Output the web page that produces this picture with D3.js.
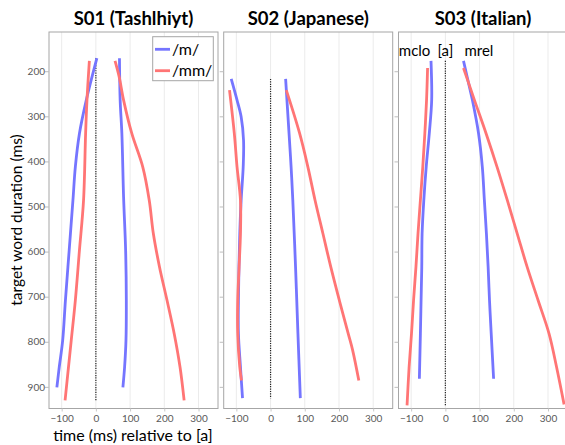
<!DOCTYPE html>
<html><head><meta charset="utf-8">
<script src="https://cdn.jsdelivr.net/npm/d3@7"></script>
<style>body{margin:0;background:#fff;} svg{display:block;}</style>
</head><body><svg id="c" width="565" height="445"></svg>
<script>
// ---- data: [target word duration (ms), time relative to [a] (ms)] ----
const speakers = ["S01 (Tashlhiyt)", "S02 (Japanese)", "S03 (Italian)"];
const seriesNames = ["/m/", "/mm/"];
const xTicks = [-100, 0, 100, 200, 300];
const yTicks = [200, 300, 400, 500, 600, 700, 800, 900];

const s01_m_clo  = [[171,3],[264,-28],[338,-48],[412,-60],[486,-67],[597,-78],[708,-89],[797,-97],[856,-107],[901,-114]];
const s01_m_rel  = [[171,69],[264,71],[338,76],[479,81],[597,87],[708,89],[797,88],[856,84],[901,79]];
const s01_mm_clo = [[177,-19],[264,-26],[338,-30],[486,-36],[597,-48],[708,-60],[797,-72],[856,-80],[930,-90]];
const s01_mm_rel = [[177,56],[212,68],[264,81],[338,105],[412,137],[486,156],[560,168],[634,186],[708,208],[782,229],[856,246],[930,258]];

const s02_m_clo  = [[217,-115],[264,-98],[301,-86],[353,-79],[412,-80],[486,-86],[560,-90],[708,-94],[782,-94],[856,-88],[925,-82]];
const s02_m_rel  = [[217,44],[338,54],[412,60],[486,65],[634,73],[782,80],[925,87]];
const s02_mm_clo = [[242,-120],[338,-106],[412,-98],[486,-88],[560,-88],[634,-92],[708,-96],[782,-96],[856,-90],[886,-85]];
const s02_mm_rel = [[242,46],[338,85],[412,109],[486,130],[560,153],[634,176],[708,201],[782,227],[819,240],[886,258]];

const s03_m_clo  = [[177,-42],[264,-40],[338,-47],[412,-56],[486,-63],[560,-68],[634,-69],[708,-71],[782,-73],[882,-76]];
const s03_m_rel  = [[177,53],[227,68],[264,79],[338,97],[412,108],[486,114],[560,120],[634,125],[708,129],[782,134],[882,141]];
const s03_mm_clo = [[193,-52],[264,-55],[338,-60],[412,-66],[486,-73],[560,-80],[634,-86],[708,-93],[782,-99],[856,-106],[941,-112]];
const s03_mm_rel = [[193,53],[264,85],[338,119],[412,151],[486,181],[560,210],[634,239],[708,271],[782,303],[856,325],[939,347]];

const panelData = [
  {m: [s01_m_clo, s01_m_rel], mm: [s01_mm_clo, s01_mm_rel]},
  {m: [s02_m_clo, s02_m_rel], mm: [s02_mm_clo, s02_mm_rel]},
  {m: [s03_m_clo, s03_m_rel], mm: [s03_mm_clo, s03_mm_rel]}
];
const annLabels = [["mclo", -90], ["[a]", 0], ["mrel", 98]];

// ---- layout ----
const FONT = "Lato, 'Open Sans', sans-serif";
const colors = {m: "#7575ff", mm: "#ff7575"};
const panelLeft = [49, 223.7, 398.5];
const panelW = 169;
const plotTop = 32, plotBottom = 408.5;
const svg = d3.select("#c");

const y = d3.scaleLinear().domain([113, 948]).range([plotTop, plotBottom]);

panelLeft.forEach((left, i) => {
  const x = d3.scaleLinear().domain([-137, 357]).range([left, left + panelW]);
  const g = svg.append("g");
  g.selectAll(".grid").data(xTicks).join("line")
    .attr("x1", d => x(d)).attr("x2", d => x(d))
    .attr("y1", plotTop).attr("y2", plotBottom)
    .attr("stroke", "#ebebeb").attr("stroke-width", 1);
  g.append("rect").attr("x", left).attr("y", plotTop).attr("width", panelW).attr("height", plotBottom - plotTop)
    .attr("fill", "none").attr("stroke", "#a6a6a6").attr("stroke-width", 1);
  const xa = g.append("g").attr("transform", `translate(0,${plotBottom})`)
    .call(d3.axisBottom(x).tickValues(xTicks).tickSize(3).tickPadding(3).tickSizeOuter(0));
  xa.select(".domain").remove();
  xa.selectAll("line").attr("stroke", "#c8c8c8");
  xa.selectAll("text").attr("font-family", FONT).attr("font-size", 10).attr("fill", "#595959");
  const ya = g.append("g").attr("transform", `translate(${left},0)`)
    .call(d3.axisLeft(y).tickValues(yTicks).tickSize(4).tickPadding(0).tickSizeOuter(0).tickFormat(i === 0 ? d3.format("d") : ""));
  ya.select(".domain").remove();
  ya.selectAll("line").attr("stroke", "#bdbdbd");
  ya.selectAll("text").attr("font-family", FONT).attr("font-size", 10).attr("fill", "#595959");
  const all = [...panelData[i].m, ...panelData[i].mm].flat();
  const ext = d3.extent(all, d => d[0]);
  g.append("line").attr("x1", x(0)).attr("x2", x(0)).attr("y1", y(ext[0])).attr("y2", y(ext[1]))
    .attr("stroke", "#222").attr("stroke-width", 1.2).attr("stroke-dasharray", "1.2,1.2");
  const line = d3.line().x(d => x(d[1])).y(d => y(d[0])).curve(d3.curveCatmullRom.alpha(0.5));
  ["m", "mm"].forEach(k => {
    panelData[i][k].forEach(arr => {
      g.append("path").attr("d", line(arr)).attr("fill", "none")
        .attr("stroke", colors[k]).attr("stroke-width", 2.8).attr("stroke-linecap", "butt");
    });
  });
  svg.append("text").attr("x", left + panelW / 2).attr("y", 25).attr("text-anchor", "middle")
    .attr("font-family", FONT).attr("font-weight", "bold").attr("font-size", 18.5).attr("fill", "#000")
    .text(speakers[i]);
  if (i === 2) {
    annLabels.forEach(([t, v]) => {
      svg.append("text").attr("x", x(v)).attr("y", 56).attr("text-anchor", "middle")
        .attr("font-family", FONT).attr("font-size", 15).attr("fill", "#000").text(t);
    });
  }
});

const lg = svg.append("g");
lg.append("rect").attr("x", 152.7).attr("y", 36.7).attr("width", 60.6).attr("height", 44)
  .attr("fill", "#fff").attr("stroke", "#a6a6a6");
seriesNames.forEach((n, j) => {
  const yy = 49.3 + j * 21.4;
  lg.append("line").attr("x1", 155).attr("x2", 170).attr("y1", yy).attr("y2", yy)
    .attr("stroke", j === 0 ? colors.m : colors.mm).attr("stroke-width", 2.8);
  lg.append("text").attr("x", 172).attr("y", yy).attr("dy", "0.35em")
    .attr("font-family", FONT).attr("font-size", 16).attr("fill", "#000").text(n);
});

svg.append("text").attr("x", 133).attr("y", 441).attr("text-anchor", "middle")
  .attr("font-family", FONT).attr("font-size", 16).attr("fill", "#000").text("time (ms) relative to [a]");
svg.append("text").attr("transform", "translate(21.5,220) rotate(-90)").attr("text-anchor", "middle")
  .attr("font-family", FONT).attr("font-size", 15.5).attr("fill", "#000").text("target word duration (ms)");
</script></body></html>
